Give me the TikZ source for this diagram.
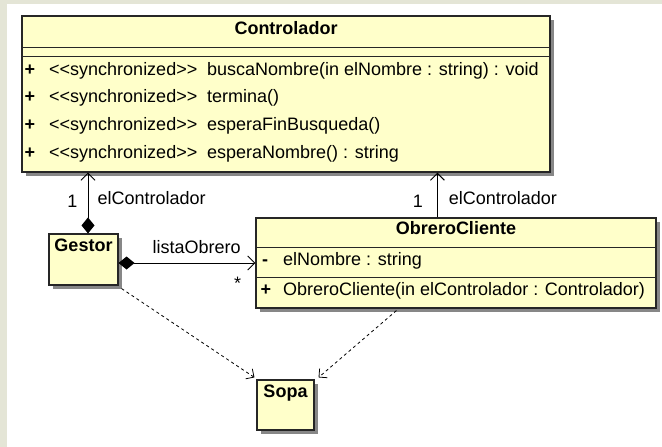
\documentclass[tikz,border=0pt]{standalone}
\usepackage{fontspec}
\setmainfont{Liberation Sans}[Ligatures=TeXOff]
\usetikzlibrary{arrows.meta,positioning,shadows}
\definecolor{clsfill}{RGB}{255,255,202}
\definecolor{bgtex}{RGB}{228,229,214}
\definecolor{shade}{RGB}{135,135,135}

\begin{document}
\begin{tikzpicture}[x=1pt, y=-1pt,
  cls/.style={draw=black!85, line width=1.1pt, fill=clsfill, inner sep=0pt,
    drop shadow={shadow xshift=4pt, shadow yshift=-4pt, fill=shade, opacity=1}},
  ttl/.style={font=\fontsize{18}{20}\selectfont\bfseries, inner sep=0pt, anchor=mid},
  vis/.style={font=\fontsize{18}{20}\selectfont\bfseries, inner sep=0pt, anchor=mid},
  row/.style={font=\fontsize{18}{20}\selectfont, inner sep=0pt, anchor=mid west},
  lab/.style={font=\fontsize{18}{20}\selectfont, inner sep=0pt},
  sep/.style={draw=black!85, line width=1.1pt},
  assoc/.style={line width=1pt, -{Straight Barb[length=7pt,width=14pt]}},
  comp/.style={line width=1pt, {Diamond[length=16pt,width=13pt]}-{Straight Barb[length=7pt,width=14pt]}},
  dep/.style={line width=0.8pt, dash pattern=on 3pt off 3pt, -{Straight Barb[length=6pt,width=12pt]}}]
  % page, with the grey strips at top and left
  \fill[bgtex] (0,0) rectangle (662,447);
  \fill[white] (7,4) rectangle (662,447);

  % classes
  \node[cls, minimum width=528pt, minimum height=156pt] (ctrl)   at (286,94)    {};
  \node[cls, minimum width=69pt,  minimum height=51pt]  (gestor) at (83.5,259.5) {};
  \node[cls, minimum width=400pt, minimum height=90pt]  (obrero) at (456,263)   {};
  \node[cls, minimum width=57pt,  minimum height=50pt]  (sopa)   at (285.5,405) {};

  % Controlador
  \node[ttl] (ctrlname) at (286,32) {Controlador};
  \draw[sep] ([yshift=-32pt]ctrl.north west) -- ([yshift=-32pt]ctrl.north east);
  \draw[sep] ([yshift=-41pt]ctrl.north west) -- ([yshift=-41pt]ctrl.north east);
  \node[vis] (v1) at (30,73)  {+};
  \node[vis] (v2) at (30,100) {+};
  \node[vis] (v3) at (30,128) {+};
  \node[vis] (v4) at (30,156) {+};
  \node[row] (st1) at (49,73)  {<<synchronized>>};
  \node[row] (st2) at (49,100) {<<synchronized>>};
  \node[row] (st3) at (49,128) {<<synchronized>>};
  \node[row] (st4) at (49,156) {<<synchronized>>};
  \node[row] (op1) at (207,73)  {buscaNombre(in elNombre : string) : void};
  \node[row] (op2) at (207,100) {termina()};
  \node[row] (op3) at (207,128) {esperaFinBusqueda()};
  \node[row] (op4) at (207,156) {esperaNombre() : string};

  % Gestor and Sopa
  \node[ttl] (gestorname) at (83.5,249) {Gestor};
  \node[ttl] (sopaname)   at (285.5,395) {Sopa};

  % ObreroCliente
  \node[ttl] (obreroname) at (456,232) {ObreroCliente};
  \draw[sep] ([yshift=-30pt]obrero.north west) -- ([yshift=-30pt]obrero.north east);
  \draw[sep] ([yshift=-60pt]obrero.north west) -- ([yshift=-60pt]obrero.north east);
  \node[vis] (va) at (265,263) {-};
  \node[vis] (vb) at (266,293) {+};
  \node[row] (attr) at (283,263) {elNombre : string};
  \node[row] (ctor) at (283,293) {ObreroCliente(in elControlador : Controlador)};

  % relations
  \draw[comp] ([xshift=4.5pt]gestor.north) -- ([xshift=4.5pt]gestor.north |- ctrl.south)
    node[lab, pos=0.52, left=10pt]{1}
    node[lab, pos=0.52, right=9pt, anchor=mid west]{elControlador};
  \draw[assoc] ([xshift=182pt]obrero.north west) -- ([xshift=182pt]obrero.north west |- ctrl.south)
    node[lab, pos=0.35, left=14pt]{1}
    node[lab, pos=0.35, right=11pt, anchor=mid west]{elControlador};
  \draw[comp] (gestor.east |- obrero.west) -- (obrero.west)
    node[lab, pos=0.57, above=9pt]{listaObrero}
    node[lab, pos=0.87, below=14pt]{*};
  \draw[dep] ([xshift=3pt,yshift=-3pt]gestor.south east) -- ([xshift=-2pt,yshift=2pt]sopa.north west);
  \draw[dep] ([xshift=141pt,yshift=-2pt]obrero.south west) -- ([xshift=4pt,yshift=2pt]sopa.north east);
\end{tikzpicture}
\end{document}
